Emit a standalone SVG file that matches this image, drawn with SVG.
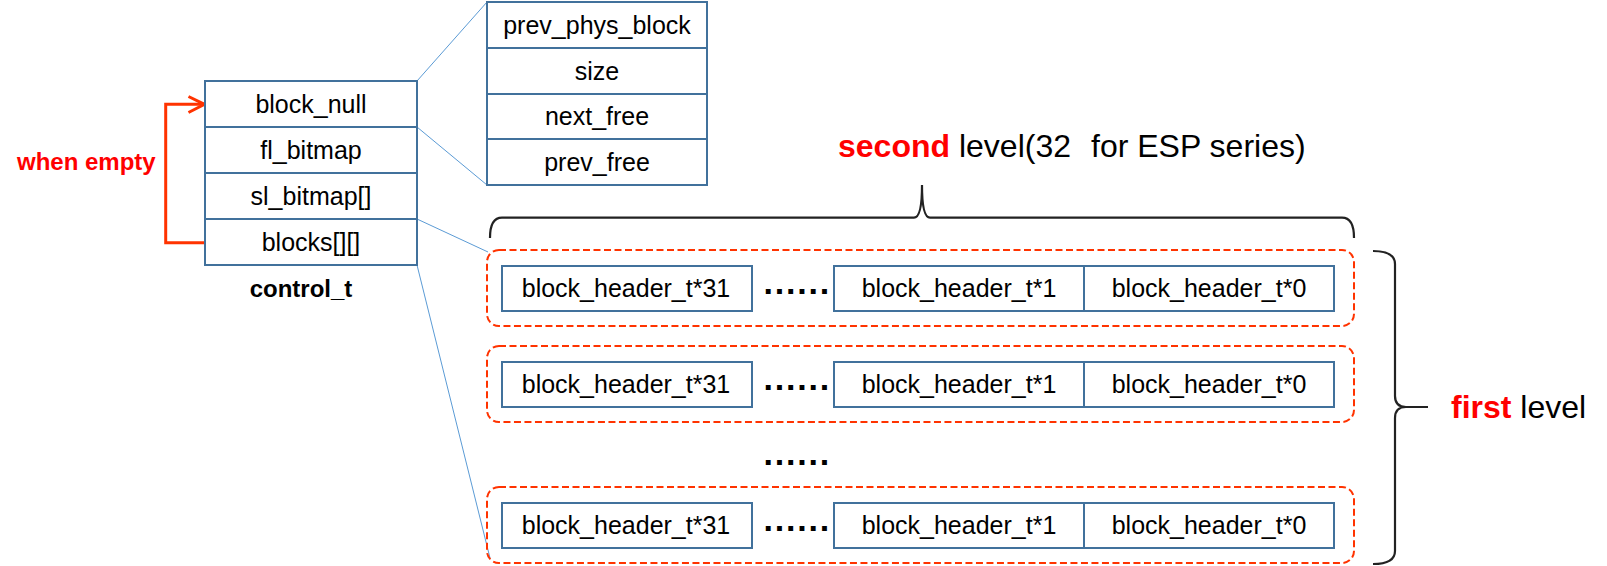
<svg xmlns="http://www.w3.org/2000/svg" width="1607" height="566" viewBox="0 0 1607 566">
<style>
.t{font-family:"Liberation Sans",Arial,sans-serif;font-size:25px;fill:#000;text-anchor:middle}
.b{font-family:"Liberation Sans",Arial,sans-serif;font-weight:bold;font-size:24px}
.box{fill:#fff;stroke:#41719C;stroke-width:2}
.grp{fill:none;stroke:#FF3300;stroke-width:2;stroke-dasharray:7 3.5}
.lnk{stroke:#5B9BD5;stroke-width:1;fill:none}
.dots{font-family:"Liberation Sans",Arial,sans-serif;font-weight:bold;font-size:34px;letter-spacing:1.8px;fill:#000}
.brace{fill:none;stroke:#222;stroke-width:2.2}
.big{font-family:"Liberation Sans",Arial,sans-serif;font-size:32px;fill:#000}
</style>
<rect width="1607" height="566" fill="#fff"/>
<g id="connectors">
<path class="lnk" d="M417 81 L487 2 M417 127 L487 185 M417 219 L488 252 M417 265 L490 558"/>
<path d="M205 242.7 H165.7 V104.3 H204" fill="none" stroke="#FF3300" stroke-width="3"/>
<path d="M188.5 96.5 L204.5 104.3 L188.5 112.5" fill="none" stroke="#FF3300" stroke-width="3"/>
</g>
<g id="when_empty"><text class="b" x="17" y="170" fill="#FF0000">when empty</text></g>
<g id="control_t">
<rect class="box" x="205" y="81" width="212" height="46"/>
<rect class="box" x="205" y="127" width="212" height="46"/>
<rect class="box" x="205" y="173" width="212" height="46"/>
<rect class="box" x="205" y="219" width="212" height="46"/>
<text class="t" x="311" y="113">block_null</text>
<text class="t" x="311" y="159">fl_bitmap</text>
<text class="t" x="311" y="205">sl_bitmap[]</text>
<text class="t" x="311" y="251">blocks[][]</text>
<text class="b" x="301" y="297" text-anchor="middle">control_t</text>
</g>
<g id="block_header">
<rect class="box" x="487" y="2" width="220" height="46"/>
<rect class="box" x="487" y="48" width="220" height="46"/>
<rect class="box" x="487" y="94" width="220" height="45"/>
<rect class="box" x="487" y="139" width="220" height="46"/>
<text class="t" x="597" y="34">prev_phys_block</text>
<text class="t" x="597" y="80">size</text>
<text class="t" x="597" y="125">next_free</text>
<text class="t" x="597" y="171">prev_free</text>
</g>
<g id="second_level">
<text class="big" x="838" y="157"><tspan font-weight="bold" fill="#FF0000">second</tspan> level(32 <tspan x="1091">for ESP series)</tspan></text>
<path class="brace" d="M490 238 Q490 217.7 502 217.7 L914 217.7 Q922 217.7 922 185 Q922 217.7 930 217.7 L1342 217.7 Q1354 217.7 1354 238"/>
</g>
<g id="row1">
<rect class="grp" x="487" y="250" width="867" height="76" rx="12"/>
<rect class="box" x="502" y="266" width="250" height="45"/>
<rect class="box" x="834" y="266" width="250" height="45"/>
<rect class="box" x="1084" y="266" width="250" height="45"/>
<text class="t" x="626" y="297">block_header_t*31</text>
<text class="dots" x="763.6" y="294">......</text>
<text class="t" x="959" y="297">block_header_t*1</text>
<text class="t" x="1209" y="297">block_header_t*0</text>
</g>
<g id="row2">
<rect class="grp" x="487" y="346" width="867" height="76" rx="12"/>
<rect class="box" x="502" y="362" width="250" height="45"/>
<rect class="box" x="834" y="362" width="250" height="45"/>
<rect class="box" x="1084" y="362" width="250" height="45"/>
<text class="t" x="626" y="393">block_header_t*31</text>
<text class="dots" x="763.6" y="390">......</text>
<text class="t" x="959" y="393">block_header_t*1</text>
<text class="t" x="1209" y="393">block_header_t*0</text>
</g>
<g id="middle_dots"><text class="dots" x="763.6" y="465">......</text></g>
<g id="row3">
<rect class="grp" x="487" y="487" width="867" height="76" rx="12"/>
<rect class="box" x="502" y="503" width="250" height="45"/>
<rect class="box" x="834" y="503" width="250" height="45"/>
<rect class="box" x="1084" y="503" width="250" height="45"/>
<text class="t" x="626" y="534">block_header_t*31</text>
<text class="dots" x="763.6" y="531">......</text>
<text class="t" x="959" y="534">block_header_t*1</text>
<text class="t" x="1209" y="534">block_header_t*0</text>
</g>
<g id="first_level">
<path class="brace" d="M1373 251 Q1395 251 1395 264 L1395 396 Q1395 407 1406 407 L1428 407 M1406 407 Q1395 407 1395 418 L1395 551 Q1395 564 1373 564"/>
<text class="big" x="1451" y="418"><tspan font-weight="bold" fill="#FF0000">first</tspan> level</text>
</g>
</svg>
